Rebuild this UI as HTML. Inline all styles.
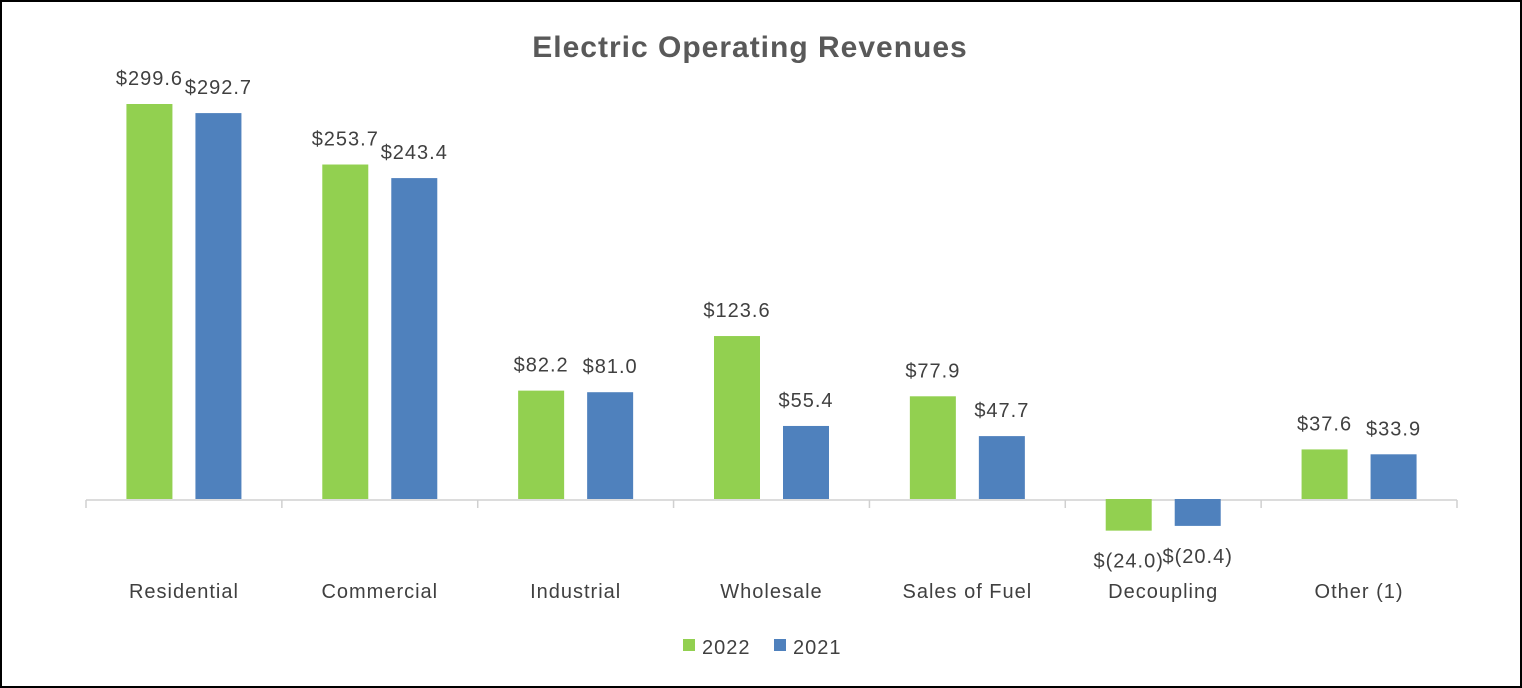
<!DOCTYPE html>
<html><head><meta charset="utf-8"><style>
html,body{margin:0;padding:0;background:#fff;}
#wrap{position:relative;width:1522px;height:688px;box-sizing:border-box;border:2px solid #000;overflow:hidden;}
svg text{font-family:"Liberation Sans",sans-serif;}
</style></head><body>
<div id="wrap">
<svg id="chart" width="1518" height="684"></svg>
</div>
<script>
const categories = ["Residential","Commercial","Industrial","Wholesale","Sales of Fuel","Decoupling","Other (1)"];
const values2022 = [299.6,253.7,82.2,123.6,77.9,-24.0,37.6];
const values2021 = [292.7,243.4,81.0,55.4,47.7,-20.4,33.9];
const labels2022 = ["$299.6","$253.7","$82.2","$123.6","$77.9","$(24.0)","$37.6"];
const labels2021 = ["$292.7","$243.4","$81.0","$55.4","$47.7","$(20.4)","$33.9"];
const seriesNames = ["2022","2021"];

const NS="http://www.w3.org/2000/svg";
const svg=document.getElementById('chart');
const OX=-2, OY=-2;
const x0=86, x1=1457, baseY=499, scale=395/299.6;
const bandW=(x1-x0)/categories.length;
const yAt=v=>baseY-v*scale+OY;
function mk(tag,attrs,parent){const e=document.createElementNS(NS,tag);for(const k in attrs)e.setAttribute(k,attrs[k]);(parent||svg).appendChild(e);return e;}

const title=mk('text',{x:750+OX,y:57+OY,'text-anchor':'middle','font-size':30,'font-weight':'bold',fill:'#595959','letter-spacing':'1'});
title.textContent="Electric Operating Revenues";



const axis=mk('line',{x1:x0+OX,x2:x1+OX,y1:baseY+1+OY,y2:baseY+1+OY,stroke:'#d0d0d0','stroke-width':1.5});


for(let i=0;i<=categories.length;i++){
  const tx=x0+i*bandW+OX;
  const t=mk('line',{x1:tx,x2:tx,y1:baseY+1+OY,y2:baseY+9+OY,stroke:'#d0d0d0','stroke-width':1.5});
  
  
}
const colors=['#92D050','#4F81BD'];
const series=[values2022,values2021];
const slabels=[labels2022,labels2021];
categories.forEach((c,i)=>{
  const cx=x0+(i+0.5)*bandW+OX;
  const lab=mk('text',{x:cx,y:598+OY,'text-anchor':'middle','font-size':20,fill:'#404040','letter-spacing':'1'});
  lab.textContent=c;
  
  
  series.forEach((s,j)=>{
    const v=s[i];
    const bx=cx-57.5+j*69;
    const top=v>=0?yAt(v):yAt(0);
    const h=Math.abs(v)*scale;
    const r=mk('rect',{x:bx,y:top,width:46,height:h,fill:colors[j]});
    
    
    const ty=v>=0?yAt(v)-19:yAt(v)+37;
    const vt=mk('text',{x:bx+23,y:ty,'text-anchor':'middle','font-size':20,fill:'#404040','letter-spacing':'1'});
    vt.textContent=slabels[j][i];
    
    
  });
});
seriesNames.forEach((n,j)=>{
  const lx=[683,774][j]+OX;
  const sw=mk('rect',{x:lx,y:639+OY,width:12,height:12,fill:colors[j]});
  
  
  const lt=mk('text',{x:lx+19,y:654+OY,'font-size':20,fill:'#404040','letter-spacing':'1'});
  lt.textContent=n;
  
  
});
</script>
</body></html>
